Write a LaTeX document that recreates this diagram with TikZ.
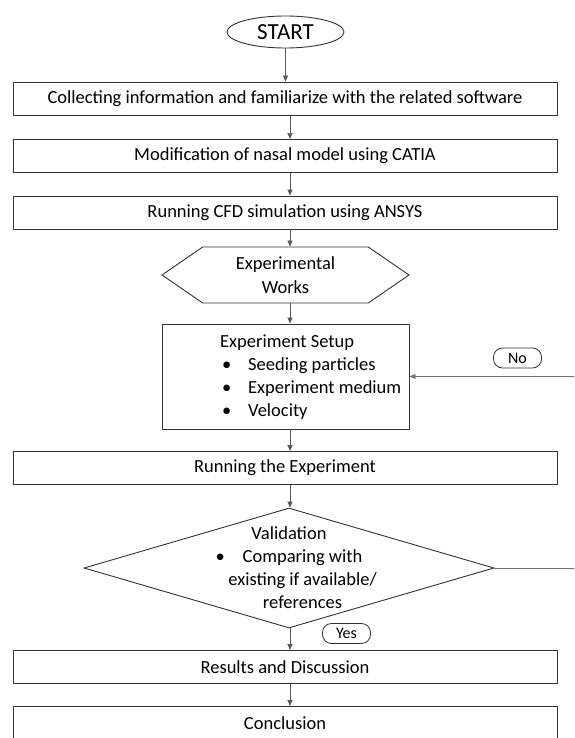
\documentclass[tikz,border=0pt]{standalone}
\usepackage{fontspec}
\setmainfont{Carlito}
\usetikzlibrary{arrows.meta,shapes.geometric,shapes.symbols}

\tikzset{
  box/.style={draw=black!80,line width=0.9pt,minimum width=544pt,minimum height=33pt,inner sep=0pt,font=\fontsize{18.5}{23}\selectfont},
  link/.style={draw=black!65,line width=0.7pt,-{Triangle[length=6pt,width=5pt]}},
  pill/.style={draw=black!80,line width=0.8pt,rounded corners=9pt,minimum width=48pt,minimum height=20pt,inner sep=0pt,font=\fontsize{16}{18}\selectfont},
  plain/.style={inner sep=0pt,font=\fontsize{18.5}{23}\selectfont},
}

\begin{document}
\begin{tikzpicture}[x=1pt,y=-1pt]
  \useasboundingbox (0,0) rectangle (574,738);
  \fill[white] (0,0) rectangle (574,738);
  \clip (0,0) rectangle (574,738);
  \coordinate (axis) at (290,0);
  % Start terminal
  \node[draw=black!80,line width=0.9pt,ellipse,minimum width=117pt,minimum height=32pt,inner sep=1pt,font=\fontsize{23}{24}\selectfont] (start) at (285.5,32) {START};
  % Main steps
  \node[box] (collect) at (285,98.5) {Collecting information and familiarize with the related software};
  \node[box] (model) at (285,156) {Modification of nasal model using CATIA};
  \node[box] (cfd) at (285,212.5) {Running CFD simulation using ANSYS};
  % Experimental works
  \node[draw=black!80,line width=0.9pt,signal,signal to=west and east,signal pointer angle=69,minimum width=247pt,minimum height=56pt,inner sep=0pt,align=center,font=\fontsize{18.5}{24}\selectfont] (works) at (285.5,275) {Experimental\\Works};
  \node[draw=black!80,line width=0.9pt,minimum width=247pt,minimum height=105pt,inner sep=0pt] (setup) at (285.5,376.5) {};
  \node[plain,anchor=west,align=left] (setuptxt) at (220,377.5) {Experiment Setup\\
    \hspace*{2pt}\makebox[26pt][l]{\textbullet}Seeding particles\\
    \hspace*{2pt}\makebox[26pt][l]{\textbullet}Experiment medium\\
    \hspace*{2pt}\makebox[26pt][l]{\textbullet}Velocity};
  \node[box] (run) at (285,468) {Running the Experiment};
  % Validation
  \node[draw=black!80,line width=0.9pt,diamond,minimum width=410pt,minimum height=120pt,inner sep=0pt] (check) at (289,568) {};
  \node[plain,align=center] (checktxt) at (check.center) {Validation\\
    \hspace*{27pt}\llap{\makebox[27pt][l]{\textbullet}}Comparing with\\
    \hspace*{27pt}existing if available/\\
    \hspace*{27pt}references};
  \node[box] (results) at (285,667) {Results and Discussion};
  \node[box] (concl) at (285,723) {Conclusion};
  % Answers
  \node[pill] (yes) at (346.5,633.5) {Yes};
  \node[pill] (no) at (517.5,358) {No};
  % Connectors
  \draw[link] (start) -- (start |- collect.north);
  \draw[link] (collect.south -| axis) -- (model.north -| axis);
  \draw[link] (model.south -| axis) -- (cfd.north -| axis);
  \draw[link] (cfd.south -| axis) -- (works.north -| axis);
  \draw[link] (works.south -| axis) -- (setup.north -| axis);
  \draw[link] (setup.south -| axis) -- (run.north -| axis);
  \draw[link] (run.south -| axis) -- (check.north -| axis);
  \draw[link] (check.south -| axis) -- (results.north -| axis);
  \draw[link] (results.south -| axis) -- (concl.north -| axis);
  % Loop back
  \draw[link,draw=black!55] (check.east) -- ++(96,0) |- (setup.east);
\end{tikzpicture}
\end{document}
